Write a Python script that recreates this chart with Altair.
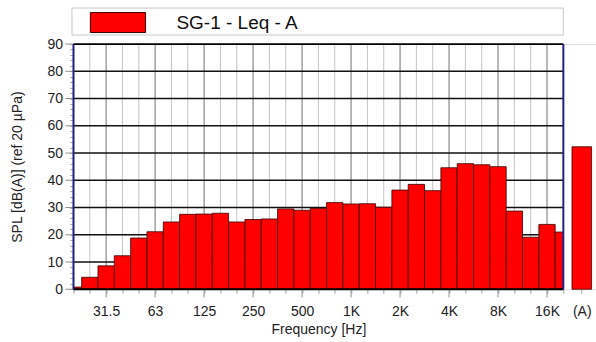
import altair as alt
import pandas as pd

# ---- data ----
bands = ["20", "25", "31.5", "40", "50", "63", "80", "100", "125", "160", "200",
         "250", "315", "400", "500", "630", "800", "1K", "1.25K", "1.6K", "2K",
         "2.5K", "3.15K", "4K", "5K", "6.3K", "8K", "10K", "12.5K", "16K", "20K"]
levels = [0.8, 4.4, 8.6, 12.3, 18.8, 21.1, 24.7, 27.5, 27.6, 27.9, 24.7,
          25.6, 25.8, 29.5, 29.0, 29.7, 31.8, 31.3, 31.4, 30.1, 36.4,
          38.5, 36.2, 44.6, 46.1, 45.7, 45.0, 28.7, 19.1, 23.8, 21.0]
labelled = ["31.5", "63", "125", "250", "500", "1K", "2K", "4K", "8K", "16K"]
total_label = "(A)"
total_level = 52.3
series = "SG-1 - Leq - A"
y_major = list(range(0, 91, 10))
y_minor = list(range(0, 91, 2))

FONT = "Liberation Sans"
n = len(bands)
last = n - 1            # index of last band (frame edge)
A_POS = last + 1.13     # centre of the overall (A) bar
A_HALF = 0.6

df = pd.DataFrame({"idx": list(range(n)), "band": bands, "level": levels,
                   "series": [series] * n})
df["major"] = df["band"].isin(labelled)
df_total = pd.DataFrame({"band": [total_label], "level": [total_level]})
df_inner = df[(df["idx"] > 0) & (df["idx"] < last)]
df_grid_major = df_inner[df_inner["major"]].reset_index(drop=True)
df_grid_minor = df_inner[~df_inner["major"]].reset_index(drop=True)
df_major = df[df["major"]].reset_index(drop=True)
df_y = pd.DataFrame({"y": y_major})
df_edges = pd.DataFrame({"x": [0, last]})

xscale = alt.Scale(domain=[0, last + 2], nice=False, zero=False)
yscale = alt.Scale(domain=[0, 90], nice=False, zero=True)

label_expr = "datum.value > %s ? '%s' : " % (last + 0.5, total_label)
for b in labelled:
    label_expr += "abs(datum.value - %d) < 0.01 ? '%s' : " % (bands.index(b), b)
label_expr += "''"

x_axis = alt.Axis(values=list(range(n)) + [A_POS], labelExpr=label_expr,
                  domain=False, grid=False, tickSize=4, tickColor="#a0a0a0",
                  labelFontSize=14, labelColor="#222", labelPadding=11,
                  labelFont=FONT, title="Frequency [Hz]", titleFont=FONT,
                  titleFontSize=14, titleFontWeight="normal", titleColor="#222",
                  titleX=245, titleY=33, titleBaseline="top")
y_axis = alt.Axis(values=y_minor,
                  labelExpr="datum.value % 10 == 0 ? datum.value : ''",
                  domain=False, grid=False, tickSize=4, tickColor="#b0b0b0",
                  labelFontSize=14, labelColor="#222", labelPadding=7,
                  labelFont=FONT, title="SPL [dB(A)] (ref 20 µPa)",
                  titleFont=FONT, titleFontSize=14, titleFontWeight="normal",
                  titleColor="#222", titleX=-55.5, titleY=122.6,
                  titleBaseline="middle")

X = lambda f: alt.X(f, scale=xscale, axis=x_axis)
Y = lambda f: alt.Y(f, scale=yscale, axis=y_axis)


def vrules(data, color, width=1.0):
    return alt.Chart(data).transform_calculate(y0="0", y1="90").mark_rule(
        color=color, strokeWidth=width).encode(x=X("idx:Q"), y=Y("y0:Q"), y2="y1:Q")


# vertical grid lines at band centres
vgrid_minor = vrules(df_grid_minor, "#c4c4c4")
vgrid_major = vrules(df_grid_major, "#707070")
# horizontal grid lines
hgrid = alt.Chart(df_y).transform_filter("datum.y > 0 && datum.y < 90").transform_calculate(
    x0="0", x1=str(last)
).mark_rule(color="#111", strokeWidth=1.6).encode(y=Y("y:Q"), x=X("x0:Q"), x2="x1:Q")
# long ticks
xtick_long = alt.Chart(df_major).transform_calculate(y0="0", y1="-3").mark_rule(
    color="#909090", strokeWidth=1).encode(x=X("idx:Q"), y=Y("y0:Q"), y2="y1:Q")
ytick_long = alt.Chart(df_y).transform_calculate(x0="0", x1="-0.5").mark_rule(
    color="#909090", strokeWidth=1).encode(y=Y("y:Q"), x=X("x0:Q"), x2="x1:Q")

bars = alt.Chart(df).transform_calculate(
    x0="max(datum.idx - 0.5, 0)", x1="min(datum.idx + 0.5, %d)" % last, base="0"
).mark_rect(stroke="#3a0000", strokeWidth=0.8).encode(
    x=X("x0:Q"), x2="x1:Q", y=Y("level:Q"), y2="base:Q",
    color=alt.Color("series:N", scale=alt.Scale(range=["#ff0000"]),
                    legend=alt.Legend(title=None, orient="none", legendX=24,
                                      legendY=-42,
                                      symbolType="M-1.38,-0.5H1.38V0.5H-1.38Z",
                                      symbolSize=1600, symbolStrokeColor="#3a0000",
                                      symbolStrokeWidth=1, symbolOpacity=1,
                                      labelFont=FONT, labelFontSize=19,
                                      labelColor="#111", labelOffset=38)),
    tooltip=["band:N", "level:Q"],
)

total = alt.Chart(df_total).transform_calculate(
    x0="%f" % (A_POS - A_HALF), x1="%f" % (A_POS + A_HALF), base="0"
).mark_rect(color="#ff0000", stroke="#3a0000", strokeWidth=0.8).encode(
    x=X("x0:Q"), x2="x1:Q", y=Y("level:Q"), y2="base:Q",
    tooltip=["band:N", "level:Q"],
)

# frame
edges = alt.Chart(df_edges).transform_calculate(y0="0", y1="90").mark_rule(
    color="#22228a", strokeWidth=2).encode(x=X("x:Q"), y=Y("y0:Q"), y2="y1:Q")
hframe = alt.Chart(df_y).transform_filter("datum.y == 0 || datum.y == 90").transform_calculate(
    x0="0", x1=str(last)
).mark_rule(color="#000", strokeWidth=1.8).encode(y=Y("y:Q"), x=X("x0:Q"), x2="x1:Q")

legend_box = alt.Chart(pd.DataFrame({"series": [series]})).mark_rect(
    fill="white", stroke="#c8c8c8", strokeWidth=1
).encode(x=alt.value(-1.5), x2=alt.value(490), y=alt.value(-36), y2=alt.value(-9))

chart = alt.layer(
    legend_box, vgrid_minor, vgrid_major, hgrid, xtick_long, ytick_long,
    bars, total, hframe, edges
).properties(
    width=522.7, height=245.3,
    autosize=alt.AutoSizeParams(type="none"),
    padding={"left": 73.5, "top": 44, "right": 0, "bottom": 52.7},
    background="white",
).configure_view(stroke=None).configure(font=FONT)

chart.save("out.html", embed_options={"renderer": "svg", "actions": False})
